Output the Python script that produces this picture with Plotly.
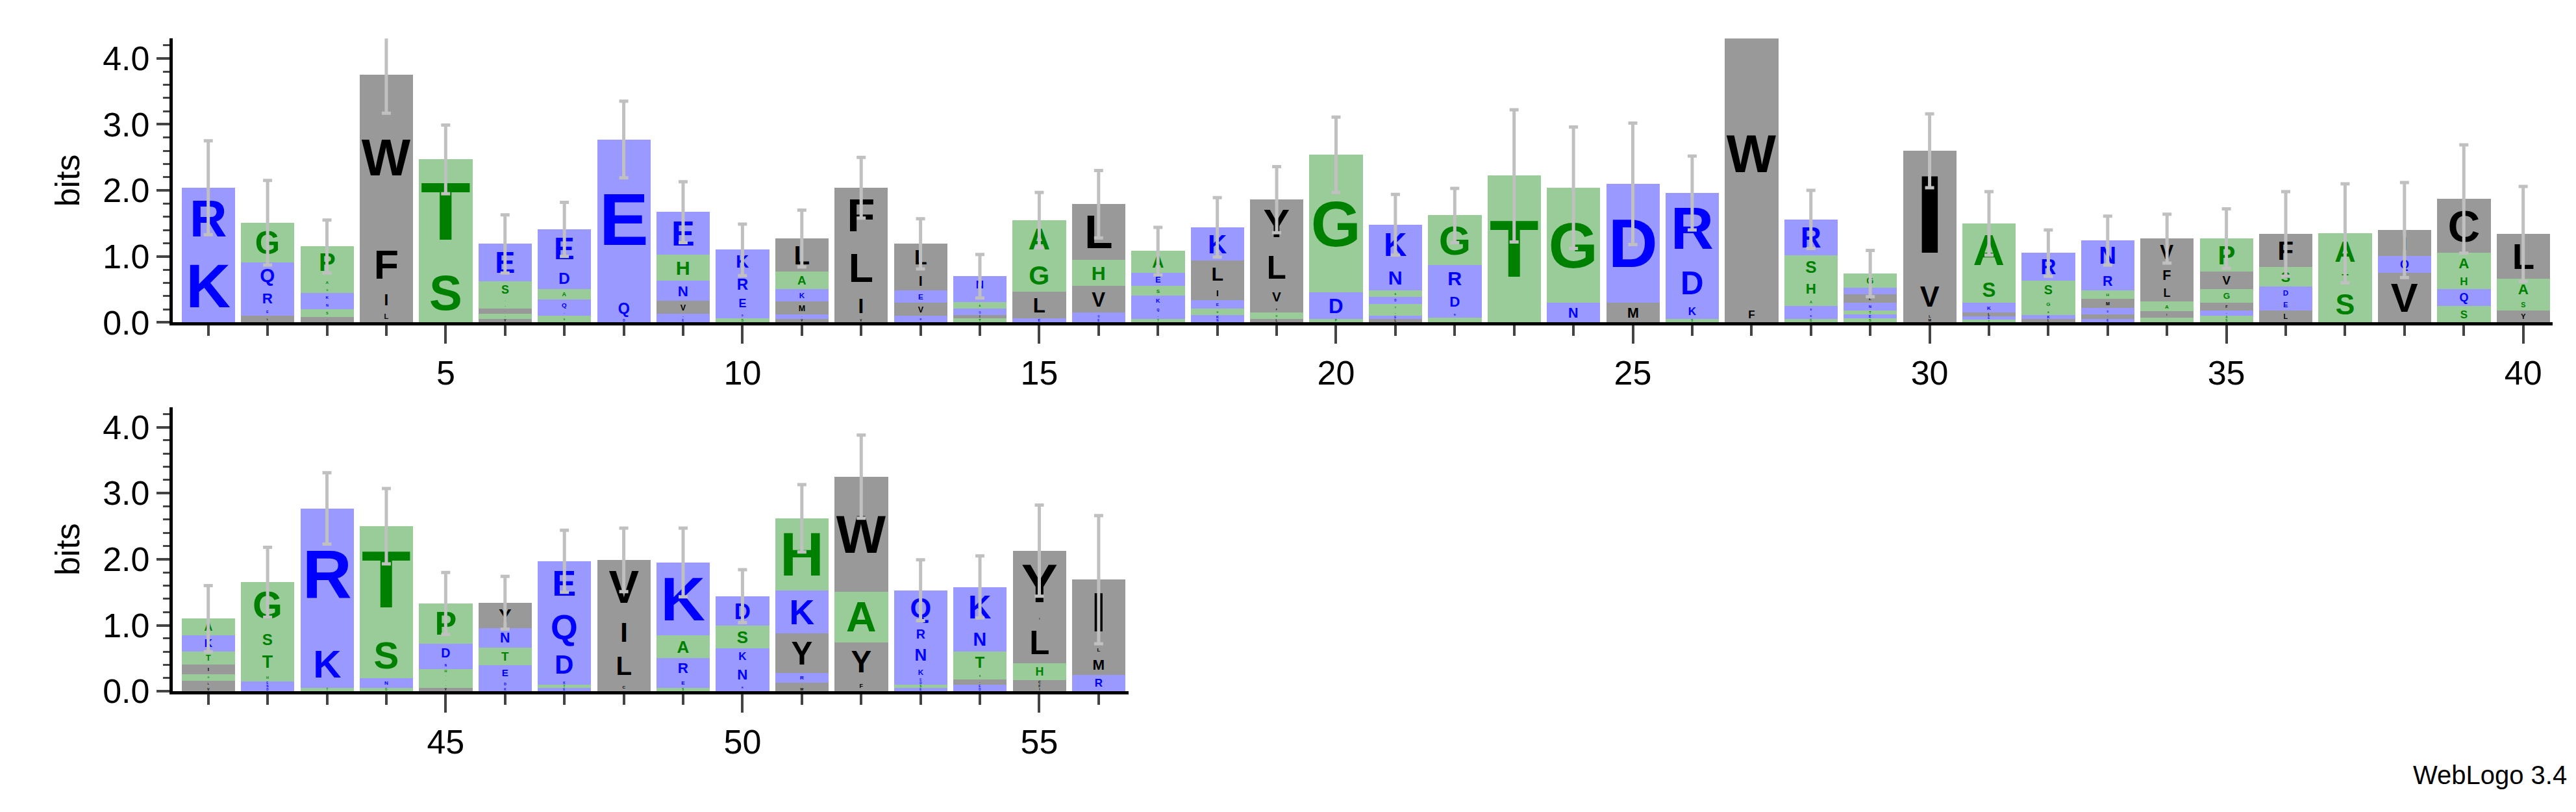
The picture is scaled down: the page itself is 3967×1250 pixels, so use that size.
import plotly.graph_objects as go
from plotly.subplots import make_subplots

# letter stacks per position, bottom -> top: (residue, bits)
row1_stacks = [
    [("K", 1.1), ("R", 0.94)],
    [("L", .1), ("E", .12), ("R", .3), ("Q", .39), ("G", .6)],
    [("V", .08), ("S", .12), ("N", .12), ("K", .12), ("G", .1), ("A", .13), ("P", .48)],
    [("L", .18), ("I", .32), ("F", .75), ("W", 2.5)],
    [("S", .9), ("T", 1.57)],
    [("V", .05), ("T", .08), ("I", .08), ("H", .08), ("A", .08), ("S", .25), ("E", .57)],
    [("S", .1), ("K", .08), ("Q", .17), ("A", .15), ("D", .33), ("E", .58)],
    [("D", .05), ("Q", .32), ("E", 2.4)],
    [("E", .05), ("D", .08), ("V", .2), ("N", .3), ("H", .39), ("E", .65)],
    [("S", .06), ("D", .1), ("E", .25), ("R", .33), ("K", .36)],
    [("V", .05), ("Q", .07), ("M", .2), ("K", .18), ("A", .27), ("L", .5)],
    [("V", .05), ("I", .4), ("L", .75), ("F", .84)],
    [("R", .1), ("V", .2), ("E", .18), ("I", .3), ("L", .41)],
    [("T", .06), ("I", .05), ("Q", .1), ("A", .1), ("R", .14), ("N", .25)],
    [("E", .06), ("L", .4), ("G", .52), ("A", .57)],
    [("E", .05), ("Q", .1), ("V", .4), ("H", .4), ("L", .84)],
    [("T", .05), ("R", .08), ("Q", .12), ("K", .15), ("S", .15), ("E", .2), ("A", .33)],
    [("N", .05), ("K", .06), ("H", .1), ("E", .13), ("I", .2), ("L", .4), ("K", .5)],
    [("L", .05), ("H", .1), ("F", .1), ("V", .28), ("L", .6), ("Y", .73)],
    [("P", .05), ("D", .4), ("G", 2.09)],
    [("L", .05), ("E", .05), ("S", .08), ("T", .1), ("D", .1), ("A", .1), ("N", .4), ("K", .6)],
    [("S", .07), ("N", .1), ("D", .3), ("R", .4), ("G", .75)],
    [("T", 2.22)],
    [("N", .3), ("G", 1.74)],
    [("M", .3), ("D", 1.8)],
    [("S", .05), ("K", .25), ("D", .6), ("R", 1.06)],
    [("F", .25), ("W", 4.6)],
    [("G", .05), ("K", .1), ("E", .1), ("A", .12), ("H", .3), ("S", .34), ("R", .55)],
    [("S", .06), ("E", .06), ("T", .06), ("N", .12), ("L", .12), ("K", .1), ("G", .22)],
    [("M", .06), ("L", .06), ("V", .55), ("I", 1.93)],
    [("T", .04), ("E", .05), ("L", .06), ("K", .15), ("S", .4), ("A", .8)],
    [("L", .05), ("K", .06), ("A", .1), ("G", .15), ("S", .27), ("R", .42)],
    [("E", .05), ("L", .07), ("D", .1), ("M", .14), ("H", .12), ("R", .3), ("N", .46)],
    [("P", .07), ("I", .1), ("A", .15), ("L", .25), ("F", .3), ("V", .4)],
    [("S", .05), ("A", .05), ("E", .08), ("F", .12), ("G", .2), ("V", .27), ("P", .5)],
    [("L", .18), ("E", .18), ("D", .18), ("S", .3), ("F", .5)],
    [("S", .55), ("T", .25), ("A", .55)],
    [("V", .75), ("Q", .25), ("I", .4)],
    [("S", .25), ("Q", .25), ("H", .25), ("A", .3), ("C", .82)],
    [("Y", .18), ("S", .18), ("A", .3), ("L", .68)],
]
row1_err = [.71, .64, .4, .58, .52, .44, .41, .58, .46, .39, .43, .46, .38, .33, .42, .51,
            .36, .45, .5, .57, .46, .41, 1.0, .92, .92, .56, .5, .44, .35, .56, .48, .35,
            .37, .37, .45, .64, .75, .72, .82, .72]

row2_stacks = [
    [("V", .06), ("L", .1), ("G", .1), ("I", .14), ("T", .2), ("K", .25), ("A", .25)],
    [("D", .05), ("N", .05), ("E", .05), ("H", .12), ("T", .35), ("S", .33), ("G", .7)],
    [("T", .05), ("K", .72), ("R", 2.0)],
    [("G", .05), ("N", .15), ("S", .7), ("T", 1.6)],
    [("V", .05), ("T", .08), ("S", .07), ("A", .08), ("H", .06), ("N", .1), ("D", .28), ("P", .61)],
    [("K", .05), ("D", .12), ("E", .22), ("T", .27), ("N", .3), ("Y", .38)],
    [("E", .05), ("T", .05), ("K", .05), ("D", .5), ("Q", .65), ("E", .67)],
    [("C", .13), ("L", .5), ("I", .53), ("V", .83)],
    [("S", .05), ("E", .15), ("R", .3), ("A", .35), ("K", 1.1)],
    [("R", .1), ("N", .3), ("K", .25), ("S", .34), ("D", .45)],
    [("W", .06), ("F", .07), ("R", .15), ("Y", .6), ("K", .65), ("H", 1.09)],
    [("F", .16), ("Y", .58), ("A", .77), ("W", 1.74)],
    [("E", .05), ("S", .05), ("D", .05), ("E", .05), ("K", .18), ("N", .35), ("R", .27), ("Q", .53)],
    [("D", .05), ("E", .05), ("V", .08), ("S", .1), ("T", .32), ("N", .38), ("K", .6)],
    [("I", .05), ("F", .06), ("C", .06), ("H", .25), ("L", .62), ("I", .1), ("Y", .99)],
    [("R", .25), ("M", .3), ("L", .15), ("I", .99)],
]
row2_err = [.5, .53, .54, .57, .47, .4, .47, .48, .52, .4, .51, .63, .46, .47, .69, .97]

row1_pos = list(range(1, 41))
row2_pos = list(range(41, 57))

BLUE, GREEN, BLACK = "#0000ff", "#008000", "#000000"
color_of = {}
for aa in "DEKNQR":
    color_of[aa] = BLUE
for aa in "AGHPST":
    color_of[aa] = GREEN
for aa in "CFILMVWY":
    color_of[aa] = BLACK

def rgba(hexc, a):
    h = hexc.lstrip("#")
    return "rgba(%d,%d,%d,%s)" % (int(h[0:2], 16), int(h[2:4], 16), int(h[4:6], 16), a)

fig = make_subplots(rows=2, cols=1, vertical_spacing=0.1)

def add_logo(stacks, positions, errs, row):
    n_layers = max(len(s) for s in stacks)
    for k in range(n_layers):
        xs, ys, txt, cols = [], [], [], []
        for p, s in zip(positions, stacks):
            if len(s) > k:
                xs.append(p)
                ys.append(s[k][1])
                txt.append("<b>%s</b>" % s[k][0])
                cols.append(color_of[s[k][0]])
        fig.add_trace(go.Bar(
            x=xs, y=ys, text=txt, width=0.9,
            marker=dict(color=[rgba(c, 0.4) for c in cols], line=dict(width=0)),
            textposition="inside", insidetextanchor="middle", textangle=0,
            textfont=dict(color=cols, size=400, family="Liberation Sans"),
            showlegend=False, hoverinfo="skip",
        ), row=row, col=1)
    totals = [sum(h for _, h in s) for s in stacks]
    fig.add_trace(go.Scatter(
        x=positions, y=totals, mode="markers", marker=dict(size=1, color="rgba(0,0,0,0)"),
        error_y=dict(type="data", array=errs, color="#c0c0c0", thickness=5, width=7),
        showlegend=False, hoverinfo="skip",
    ), row=row, col=1)

add_logo(row1_stacks, row1_pos, row1_err, 1)
add_logo(row2_stacks, row2_pos, row2_err, 2)

axis_font = dict(family="Liberation Sans", size=52, color="black")
xcommon = dict(tick0=0, dtick=5, ticks="outside", ticklen=28, tickwidth=4,
               showline=True, linewidth=5, linecolor="black", showgrid=False, zeroline=False,
               tickfont=axis_font, minor=dict(dtick=1, ticks="outside", ticklen=16, tickwidth=4, showgrid=False))
ycommon = dict(range=[0, 4.3], dtick=1, tickformat=".1f", ticks="outside", ticklen=20, tickwidth=4,
               showline=True, linewidth=5, linecolor="black", showgrid=False, zeroline=False,
               tickfont=axis_font, title=dict(text="bits", font=axis_font, standoff=20),
               minor=dict(dtick=0.2, ticks="outside", ticklen=10, tickwidth=3, showgrid=False))

fig.update_xaxes(range=[0.4, 40.5], domain=[0.065, 0.989], **xcommon, row=1, col=1)
fig.update_xaxes(range=[40.4, 56.5], domain=[0.065, 0.436], **xcommon, row=2, col=1)
fig.update_yaxes(domain=[0.6, 0.958], **ycommon, row=1, col=1)
fig.update_yaxes(domain=[0.135, 0.493], **ycommon, row=2, col=1)

fig.add_annotation(text="WebLogo 3.4", xref="paper", yref="paper", x=0.995, y=0.01,
                   xanchor="right", yanchor="bottom", showarrow=False,
                   font=dict(family="Liberation Sans", size=40, color="black"))

fig.update_layout(
    width=3967, height=1250, barmode="stack", bargap=0,
    plot_bgcolor="white", paper_bgcolor="white",
    margin=dict(l=0, r=0, t=0, b=0),
    uniformtext=dict(minsize=1),
)

fig.write_html("out.html")
